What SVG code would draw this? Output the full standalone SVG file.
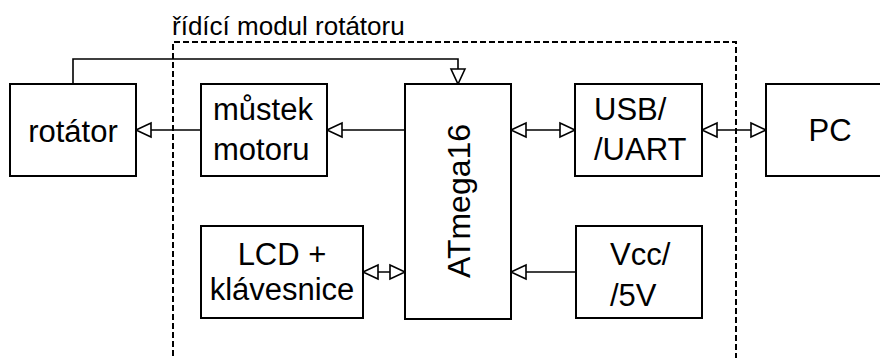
<svg xmlns="http://www.w3.org/2000/svg" width="880" height="358" viewBox="0 0 880 358">
<style>
.box{fill:#fff;stroke:#000;stroke-width:2}
.t{font-family:"Liberation Sans",Arial,sans-serif;font-size:31px;fill:#000}
.c{text-anchor:middle}
.ln{fill:none;stroke:#000;stroke-width:1.6}
.dash{fill:none;stroke:#000;stroke-width:2;stroke-dasharray:6 3}
</style>
<defs>
<marker id="ah" markerUnits="userSpaceOnUse" markerWidth="20" markerHeight="20" viewBox="-2 -2 20 20" refX="15" refY="7" orient="auto-start-reverse">
<path d="M0,0 L15,7 L0,14 Z" fill="#fff" stroke="#000" stroke-width="1.6"/>
</marker>
</defs>
<rect width="880" height="358" fill="#fff"/>
<g id="module">
<path class="dash" d="M173,365 L173,42 L736,42 L736,365"/>
<text class="t" x="172" y="35" style="font-size:26px">řídící modul rotátoru</text>
</g>
<g id="connectors">
<path class="ln" d="M405,130 L327,130" marker-end="url(#ah)"/>
<path class="ln" d="M201,130 L136,130" marker-end="url(#ah)"/>
<path class="ln" d="M511,130 L575,130" marker-start="url(#ah)" marker-end="url(#ah)"/>
<path class="ln" d="M702,130 L766,130" marker-start="url(#ah)" marker-end="url(#ah)"/>
<path class="ln" d="M363,272 L405,272" marker-start="url(#ah)" marker-end="url(#ah)"/>
<path class="ln" d="M576,272 L511,272" marker-end="url(#ah)"/>
<path class="ln" d="M73,84 L73,59 L458,59 L458,84" marker-end="url(#ah)"/>
</g>
<g id="rotator">
<rect class="box" x="10" y="84" width="126" height="92"/>
<text class="t c" x="73" y="142">rotátor</text>
</g>
<g id="mustek">
<rect class="box" x="201" y="84" width="126" height="92"/>
<text class="t" x="213" y="120">můstek</text>
<text class="t" x="213" y="160">motoru</text>
</g>
<g id="atmega">
<rect class="box" x="405" y="84" width="106" height="235"/>
<text class="t c" transform="translate(470,201) rotate(-90)" style="font-size:32px">ATmega16</text>
</g>
<g id="usb">
<rect class="box" x="575" y="84" width="127" height="92"/>
<text class="t" x="594" y="120">USB/</text>
<text class="t" x="594" y="160">/UART</text>
</g>
<g id="pc">
<rect class="box" x="766" y="84" width="126" height="92"/>
<text class="t c" x="830" y="141">PC</text>
</g>
<g id="lcd">
<rect class="box" x="201" y="226" width="162" height="92"/>
<text class="t c" x="282" y="265">LCD +</text>
<text class="t c" x="282" y="300">klávesnice</text>
</g>
<g id="vcc">
<rect class="box" x="576" y="226" width="126" height="92"/>
<text class="t" x="610" y="265">Vcc/</text>
<text class="t" x="610" y="306">/5V</text>
</g>
</svg>
